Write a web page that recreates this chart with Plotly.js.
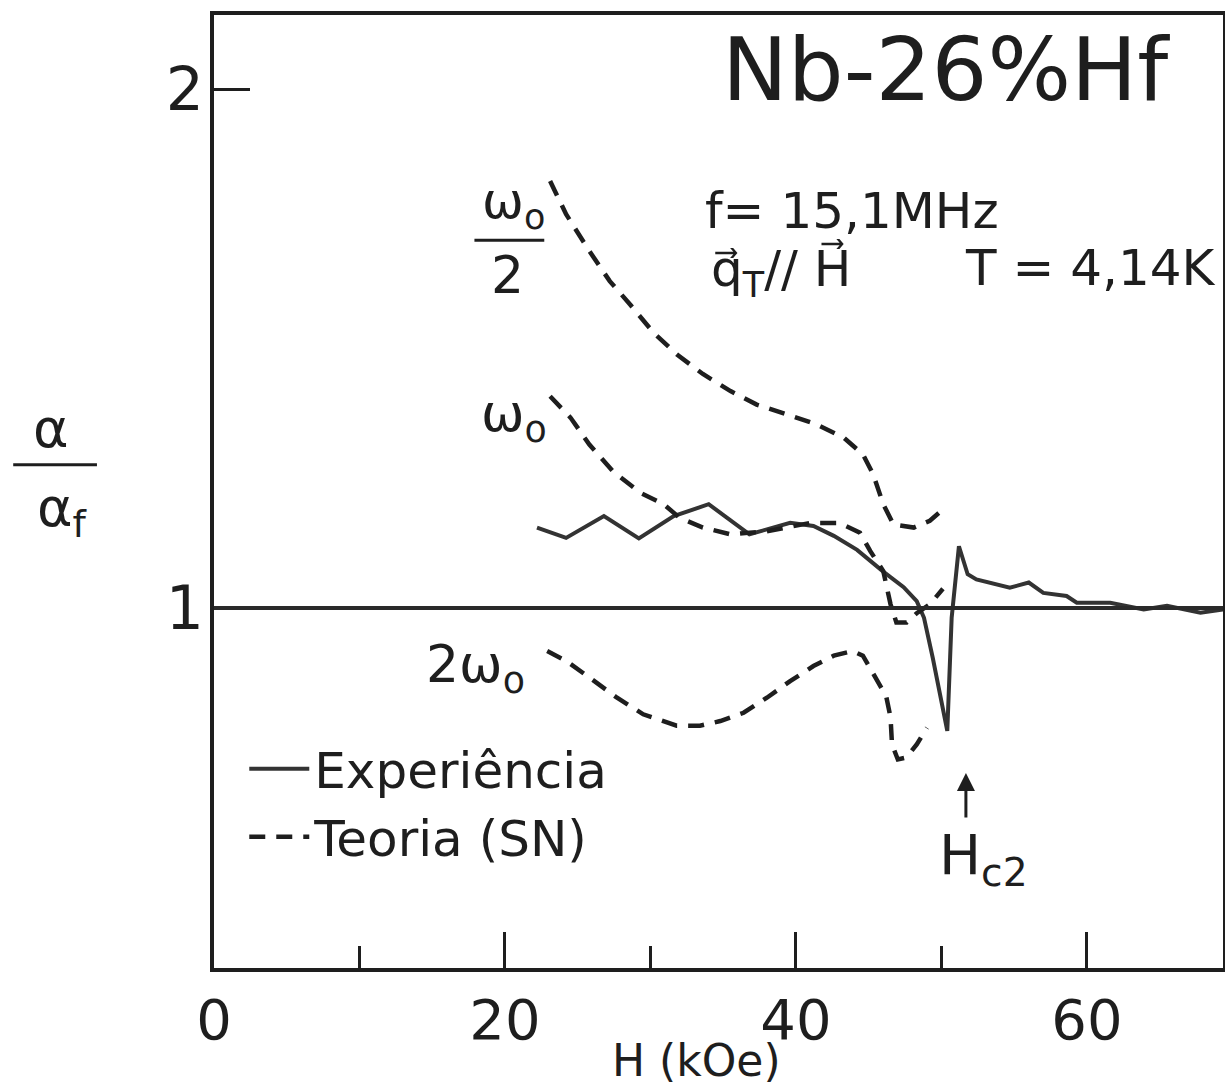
<!DOCTYPE html>
<html>
<head>
<meta charset="utf-8">
<script src="https://cdn.plot.ly/plotly-3.0.1.min.js"></script>
<style>html,body{margin:0;padding:0;background:#fff;}</style>
</head>
<body>
<div id="chart" style="width:1225px;height:1090px;"></div>
<script>
// Experimental curve (solid)
const expH = [22.2, 24.2, 26.8, 29.2, 31.6, 34.0, 36.8, 39.6, 41.2, 42.6, 44.2, 46.0, 47.4, 48.3, 48.8, 49.4, 50.4, 50.7, 51.2, 51.8, 52.4, 54.7, 56.0, 57.0, 58.6, 59.3, 61.6, 63.9, 65.5, 67.8, 69.35];
const expR = [1.155, 1.135, 1.177, 1.134, 1.177, 1.200, 1.142, 1.164, 1.158, 1.139, 1.112, 1.070, 1.040, 1.013, 0.981, 0.904, 0.763, 0.981, 1.119, 1.065, 1.055, 1.039, 1.049, 1.029, 1.023, 1.010, 1.010, 0.997, 1.004, 0.991, 0.997];

// Theory (SN), omega0/2
const halfH = [23.1, 24.2, 25.8, 27.2, 28.6, 30.2, 31.8, 33.6, 35.5, 37.3, 39.4, 41.4, 43.3, 44.6, 45.3, 46.0, 46.7, 48.1, 49.2, 50.1];
const halfR = [1.823, 1.759, 1.688, 1.630, 1.585, 1.531, 1.489, 1.451, 1.418, 1.392, 1.373, 1.354, 1.328, 1.296, 1.258, 1.200, 1.161, 1.155, 1.168, 1.190];

// Theory (SN), omega0
const oneH = [23.1, 24.5, 25.8, 27.4, 29.3, 30.9, 32.0, 33.6, 35.5, 38.0, 41.0, 43.0, 44.4, 45.1, 46.0, 46.5, 46.9, 47.6, 48.3, 49.2, 50.1];
const oneR = [1.408, 1.367, 1.315, 1.264, 1.222, 1.200, 1.174, 1.155, 1.142, 1.148, 1.164, 1.164, 1.145, 1.110, 1.071, 1.007, 0.972, 0.972, 0.990, 1.007, 1.037];

// Theory (SN), 2 omega0
const twoH = [22.9, 24.2, 25.8, 27.7, 29.5, 31.8, 33.4, 34.8, 36.4, 38.0, 39.6, 41.2, 42.6, 43.9, 44.6, 45.3, 46.2, 46.5, 46.6, 47.0, 47.6, 48.3, 49.0];
const twoR = [0.917, 0.898, 0.866, 0.827, 0.795, 0.773, 0.773, 0.782, 0.798, 0.827, 0.859, 0.888, 0.908, 0.917, 0.908, 0.875, 0.830, 0.789, 0.737, 0.708, 0.712, 0.737, 0.769];

const xTickVals = [0, 20, 40, 60];
const xTickText = ['0', '20', '40', '60'];
const xMinorVals = [10, 30, 50];
const yTickVals = [1, 2];
const yTickText = ['1', '2'];

const ink = '#1e1e1e';
const FONT = 'DejaVu Sans, Liberation Sans, sans-serif';
const dashPat = '16px,11px';

const traces = [
  {x: expH, y: expR, mode: 'lines', name: 'Experiência', legendgroup: 'e',
   line: {color: '#333', width: 4}},
  {x: halfH, y: halfR, mode: 'lines', name: 'Teoria (SN)', legendgroup: 't',
   line: {color: ink, width: 4.5, dash: dashPat}},
  {x: oneH, y: oneR, mode: 'lines', name: 'Teoria (SN)', legendgroup: 't', showlegend: false,
   line: {color: ink, width: 4.5, dash: dashPat}},
  {x: twoH, y: twoR, mode: 'lines', name: 'Teoria (SN)', legendgroup: 't', showlegend: false,
   line: {color: ink, width: 4.5, dash: dashPat}}
];

const ann = (o) => Object.assign({xref: 'x', yref: 'y', showarrow: false,
  xanchor: 'center', yanchor: 'middle',
  font: {family: FONT, size: 52, color: ink}}, o);

const layout = {
  width: 1225, height: 1090,
  margin: {l: 214, r: 2, t: 15, b: 122},
  paper_bgcolor: '#fff', plot_bgcolor: '#fff',
  font: {family: FONT, color: ink},
  showlegend: true,
  legend: {x: 0.03, y: 0.25, xanchor: 'left', yanchor: 'top',
           bgcolor: 'rgba(0,0,0,0)', itemwidth: 60, tracegroupgap: 0,
           font: {family: FONT, size: 50, color: ink}},
  xaxis: {range: [0, 69.35], showgrid: false, zeroline: false,
          showline: true, linewidth: 4, linecolor: ink, mirror: true,
          ticks: 'inside', tickvals: xTickVals, ticktext: xTickText,
          ticklen: 36, tickwidth: 3, tickcolor: ink, ticklabelstandoff: 0,
          minor: {ticks: 'inside', tickvals: xMinorVals, ticklen: 22, tickwidth: 3, tickcolor: ink},
          tickfont: {family: FONT, size: 56, color: ink}},
  yaxis: {range: [0.306, 2.143], showgrid: false, zeroline: false,
          showline: true, linewidth: 4, linecolor: ink, mirror: true,
          ticks: 'inside', tickvals: yTickVals, ticktext: yTickText,
          ticklen: 36, tickwidth: 3, tickcolor: ink, ticklabelstandoff: -6,
          tickfont: {family: FONT, size: 60, color: ink}},
  shapes: [
    {type: 'line', xref: 'paper', x0: 0, x1: 1, yref: 'y', y0: 1, y1: 1,
     line: {color: '#2a2a2a', width: 4}},
    // fraction bar for omega0/2 label
    {type: 'line', xref: 'x', x0: 17.9, x1: 22.7, yref: 'y', y0: 1.709, y1: 1.709,
     line: {color: ink, width: 3}},
    // y-axis label fraction bar
    {type: 'line', xref: 'paper', x0: -0.199, x1: -0.116, yref: 'paper', y0: 0.528, y1: 0.528,
     line: {color: ink, width: 3}}
  ],
  annotations: [
    ann({x: 50.3, y: 2.037, text: 'Nb-26%Hf', font: {family: FONT, size: 88, color: ink}}),
    ann({x: 33.6, y: 1.765, xanchor: 'left', text: 'f= 15,1MHz', font: {family: FONT, size: 50, color: ink}}),
    ann({x: 34.0, y: 1.648, xanchor: 'left', text: 'q\u20D7<sub>T</sub>// H\u20D7', font: {family: FONT, size: 50, color: ink}}),
    ann({x: 69.0, y: 1.655, xanchor: 'right', text: 'T = 4,14K', font: {family: FONT, size: 50, color: ink}}),
    ann({x: 20.6, y: 1.778, text: 'ω<sub>o</sub>', font: {family: FONT, size: 50, color: ink}}),
    ann({x: 20.2, y: 1.642, text: '2', font: {family: FONT, size: 52, color: ink}}),
    ann({x: 20.6, y: 1.368, text: 'ω<sub>o</sub>', font: {family: FONT, size: 52, color: ink}}),
    ann({x: 18.0, y: 0.885, text: '2ω<sub>o</sub>', font: {family: FONT, size: 52, color: ink}}),
    ann({x: 49.7, y: 0.518, xanchor: 'left', text: 'H<sub>c2</sub>', font: {family: FONT, size: 56, color: ink}}),
    {xref: 'x', yref: 'y', x: 51.68, y: 0.682, ax: 0, ay: 46, text: '', showarrow: true,
     arrowhead: 2, arrowsize: 1.2, arrowwidth: 3, arrowcolor: ink},
    {xref: 'paper', yref: 'paper', x: 0.478, y: -0.126, yanchor: 'bottom', xanchor: 'center',
     text: 'H (kOe)', showarrow: false, font: {family: FONT, size: 44, color: ink}},
    {xref: 'paper', yref: 'paper', x: -0.162, y: 0.566, xanchor: 'center', yanchor: 'middle',
     text: 'α', showarrow: false, font: {family: FONT, size: 54, color: ink}},
    {xref: 'paper', yref: 'paper', x: -0.150, y: 0.480, xanchor: 'center', yanchor: 'middle',
     text: 'α<sub>f</sub>', showarrow: false, font: {family: FONT, size: 54, color: ink}}
  ]
};

Plotly.newPlot('chart', traces, layout, {displayModeBar: false, staticPlot: true});
</script>
</body>
</html>
